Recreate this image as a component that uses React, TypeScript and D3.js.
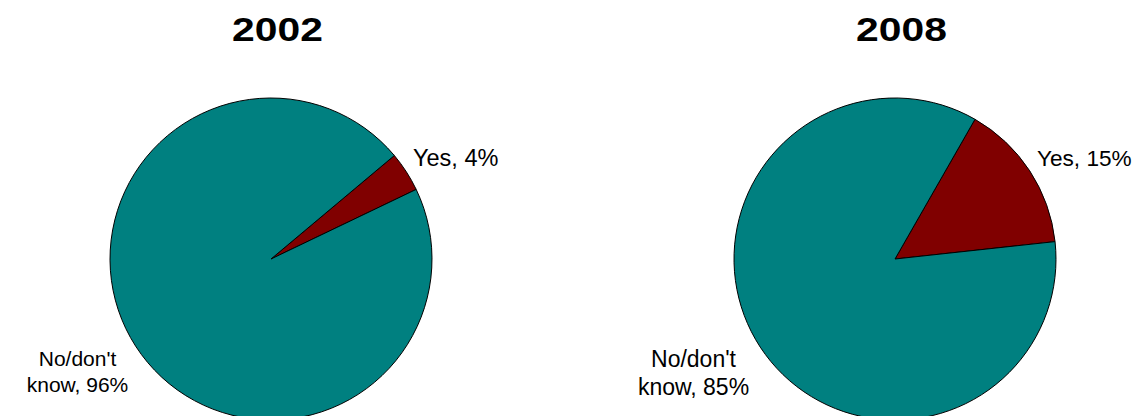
import React from "react";
import * as d3 from "d3";

const categories = ["Yes", "No/don't know"];
const years = ["2002", "2008"];
const values2002 = [4, 96];
const values2008 = [15, 85];
const labelLines2002 = [["Yes, 4%"], ["No/don't", "know, 96%"]];
const labelLines2008 = [["Yes, 15%"], ["No/don't", "know, 85%"]];

const colors = ["#800000", "#008080"];

const charts = [
  {
    year: years[0], values: values2002, labels: labelLines2002, cx: 271, startDeg: 50,
    yesSize: 23.5, noSize: 21, noX: -193.5, noY: 107, noLH: 26,
  },
  {
    year: years[1], values: values2008, labels: labelLines2008, cx: 895, startDeg: 29.8,
    yesSize: 22.6, noSize: 23, noX: -201.5, noY: 108, noLH: 28,
  },
];

const W = 1141;
const H = 416;
const CY = 259;
const R = 161;
const FONT = "Liberation Sans, Arial, sans-serif";

export default function App() {
  const arc = d3.arc<d3.PieArcDatum<number>>().innerRadius(0).outerRadius(R);
  return (
    <svg
      width={W}
      height={H}
      style={{ position: "absolute", left: 0, top: 0, background: "#fff" }}
    >
      {charts.map((c) => {
        const start = (c.startDeg * Math.PI) / 180;
        const pie = d3
          .pie<number>()
          .sort(null)
          .startAngle(start)
          .endAngle(start + 2 * Math.PI);
        const arcs = pie(c.values);
        const tx = c.cx + 6.5;
        return (
          <g key={c.year}>
            <g transform={`translate(${tx},41) scale(1.2,1)`}>
              <text
                x={0}
                y={0}
                textAnchor="middle"
                fontFamily={FONT}
                fontWeight="bold"
                fontSize={34}
                fill="#000"
              >
                {c.year}
              </text>
            </g>
            <g transform={`translate(${c.cx},${CY})`}>
              {arcs.map((a, i) => (
                <path
                  key={categories[i]}
                  d={arc(a) || ""}
                  fill={colors[i]}
                  stroke="#000"
                  strokeWidth={1}
                />
              ))}
              <text
                x={142}
                y={-93}
                textAnchor="start"
                fontFamily={FONT}
                fontSize={c.yesSize}
                fill="#000"
              >
                {c.labels[0][0]}
              </text>
              <text
                textAnchor="middle"
                fontFamily={FONT}
                fontSize={c.noSize}
                fill="#000"
              >
                {c.labels[1].map((l, j) => (
                  <tspan key={j} x={c.noX} y={c.noY + j * c.noLH}>
                    {l}
                  </tspan>
                ))}
              </text>
            </g>
          </g>
        );
      })}
    </svg>
  );
}
